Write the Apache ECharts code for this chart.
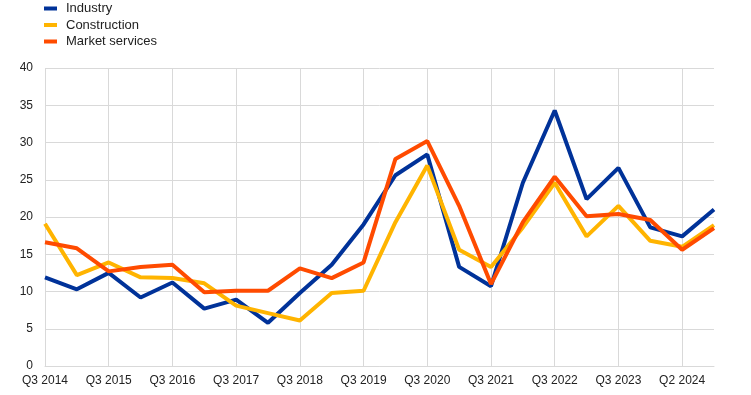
<!DOCTYPE html>
<html>
<head>
<meta charset="utf-8">
<script src="https://cdn.jsdelivr.net/npm/echarts@6/dist/echarts.min.js"></script>
<style>html,body{margin:0;padding:0;background:#fff}#c{width:751px;height:395px}</style>
</head>
<body>
<div id="c"></div>
<script>
var categories = ["Q3 2014","Q1 2015","Q3 2015","Q1 2016","Q3 2016","Q1 2017","Q3 2017","Q1 2018","Q3 2018","Q1 2019","Q3 2019","Q1 2020","Q3 2020","Q1 2021","Q3 2021","Q1 2022","Q3 2022","Q1 2023","Q3 2023","Q1 2024","Q2 2024","Q4 2024"];
var industry = [11.9,10.3,12.5,9.2,11.2,7.7,8.9,5.8,9.8,13.6,19.0,25.6,28.4,13.3,10.7,24.6,34.3,22.4,26.6,18.6,17.4,21.0];
var construction = [19.1,12.2,13.9,11.9,11.8,11.1,8.1,7.1,6.1,9.8,10.1,19.3,26.9,15.6,13.3,18.6,24.6,17.4,21.5,16.8,16.0,18.9];
var marketServices = [16.6,15.8,12.7,13.3,13.6,9.9,10.1,10.1,13.1,11.8,13.9,27.8,30.2,21.5,11.0,19.3,25.4,20.1,20.4,19.6,15.6,18.5];
var yTicks = {min: 0, max: 40, interval: 5};

var chart = echarts.init(document.getElementById('c'), null, {renderer: 'canvas'});
var font = 'Liberation Sans, Arial, sans-serif';
function line(name, data, color) {
  return {name: name, type: 'line', data: data, symbol: 'none', smooth: false,
    lineStyle: {color: color, width: 4}, itemStyle: {color: color}};
}
chart.setOption({
  animation: false,
  legend: {
    orient: 'vertical', left: 39, top: 0, itemGap: 3.5, padding: [2, 5, 5, 5],
    itemWidth: 13, itemHeight: 4, icon: 'rect',
    textStyle: {fontFamily: font, fontSize: 13, color: '#222', padding: [0, 0, 0, 4]},
    data: ['Industry', 'Construction', 'Market services']
  },
  grid: {left: 45, right: 37, top: 68, bottom: 29},
  xAxis: {
    type: 'category', data: categories, boundaryGap: false,
    axisLine: {show: true, lineStyle: {color: '#d9d9d9', width: 1}},
    axisTick: {show: false},
    axisLabel: {interval: 1, color: '#222', fontFamily: font, fontSize: 12, margin: 9},
    splitLine: {show: true, interval: 1, lineStyle: {color: '#d9d9d9', width: 1}}
  },
  yAxis: {
    type: 'value', min: yTicks.min, max: yTicks.max, interval: yTicks.interval,
    axisLine: {show: false}, axisTick: {show: false},
    axisLabel: {color: '#222', fontFamily: font, fontSize: 12, margin: 12},
    splitLine: {lineStyle: {color: '#d9d9d9', width: 1}}
  },
  series: [
    line('Industry', industry, '#003299'),
    line('Construction', construction, '#FFB400'),
    line('Market services', marketServices, '#FF4B00')
  ]
});
</script>
</body>
</html>
